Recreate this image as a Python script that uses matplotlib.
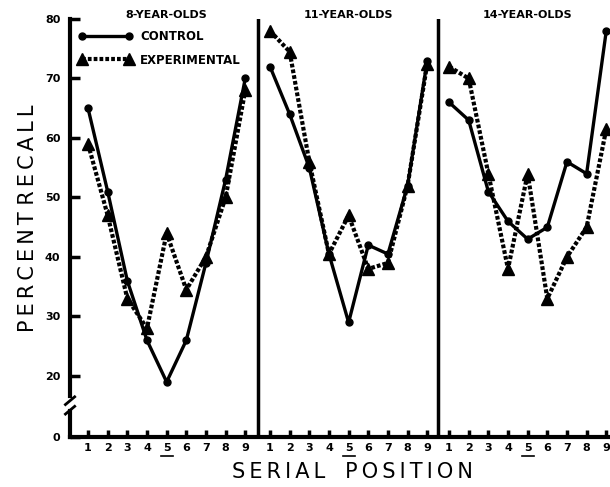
import numpy as np
import matplotlib
matplotlib.use("Agg")
import matplotlib.pyplot as plt
import matplotlib.transforms as mtransforms

# Serial position recall, three age groups
positions = [1, 2, 3, 4, 5, 6, 7, 8, 9]
groups = ['8-YEAR-OLDS', '11-YEAR-OLDS', '14-YEAR-OLDS']

control = [
    [65, 51, 36, 26, 19, 26, 39, 53, 70],
    [72, 64, 55, 40.5, 29, 42, 40.5, 52, 73],
    [66, 63, 51, 46, 43, 45, 56, 54, 78],
]
experimental = [
    [59, 47, 33, 28, 44, 34.5, 40, 50, 68],
    [78, 74.5, 56, 40.5, 47, 38, 39, 52, 72.5],
    [72, 70, 54, 38, 54, 33, 40, 45, 61.5],
]

yticks = [0, 20, 30, 40, 50, 60, 70, 80]

# layout: panels side by side on one axis, broken y axis below 20
offsets = [0, 9.26, 18.37]
dividers = [9.65, 18.81]
zero_pos = 9.75


def spaced(s):
    # wide letter spacing like the original typesetting
    return '\u2009'.join(s)


plt.rcParams['font.family'] = 'DejaVu Sans'
fig = plt.figure(figsize=(6.1, 4.87), dpi=100)
ax = fig.add_axes([0.1148, 0.1027, 0.8852, 0.8583])

for i in range(3):
    x = np.array(positions) + offsets[i]
    lc, = ax.plot(x, control[i], '-o', color='black', lw=2.4, ms=5,
                  label='CONTROL', zorder=3, clip_on=False)
    le, = ax.plot(x, experimental[i], marker='^', color='black', lw=3,
                  ls=(0, (0.9, 0.5)), ms=9, label='EXPERIMENTAL', zorder=2,
                  clip_on=False)

for d in dividers:
    ax.axvline(d, color='black', lw=2.5)

ax.set_xlim(0.084, 27.56)
ax.set_ylim(zero_pos, 80)

xt = []
xl = []
for i in range(3):
    for p in positions:
        xt.append(p + offsets[i])
        xl.append(str(p))
ax.set_xticks(xt)
ax.set_xticklabels(xl, fontsize=8, fontweight='bold')
ax.tick_params(axis='x', direction='in', length=5, width=2.5, pad=4)

ax.set_yticks([zero_pos if v == 0 else v for v in yticks])
ax.set_yticklabels([str(v) for v in yticks], fontsize=8, fontweight='bold')
ax.tick_params(axis='y', direction='in', length=7, width=2.5, pad=7)

# underline the middle position in each panel
trans = mtransforms.blended_transform_factory(ax.transData, ax.transAxes)
for i in range(3):
    x5 = 5 + offsets[i]
    ax.plot([x5 - 0.3, x5 + 0.3], [-0.046, -0.046], color='black', lw=1.2,
            transform=trans, clip_on=False)

for s in ['top', 'right', 'left']:
    ax.spines[s].set_visible(False)
ax.spines['bottom'].set_linewidth(3)

# left spine with break
ax.plot([0.084, 0.084], [zero_pos, 14.2], color='black', lw=3, clip_on=False)
ax.plot([0.084, 0.084], [16.6, 80], color='black', lw=3, clip_on=False)
for yb in [14.0, 15.6]:
    ax.plot([-0.15, 0.32], [yb - 0.4, yb + 0.9], color='black', lw=2,
            clip_on=False)

for i in range(3):
    ax.text(5 + offsets[i], 80.7, groups[i], ha='center', va='center',
            fontsize=8, fontweight='bold')

ax.legend(handles=[lc, le], loc='upper left', bbox_to_anchor=(0.0, 0.993),
          frameon=False, numpoints=2, handlelength=4.6, handletextpad=0.65,
          labelspacing=0.88, borderaxespad=0.3,
          prop={'size': 8.5, 'weight': 'bold'})

fig.text(0.046, 0.552, spaced('PERCENT') + ' ' + spaced('RECALL'),
         rotation=90, ha='center', va='center', fontsize=15)
fig.text(0.577, 0.031, spaced('SERIAL') + '   ' + spaced('POSITION'),
         ha='center', va='center', fontsize=15)

fig.savefig('out.png', dpi=100)
